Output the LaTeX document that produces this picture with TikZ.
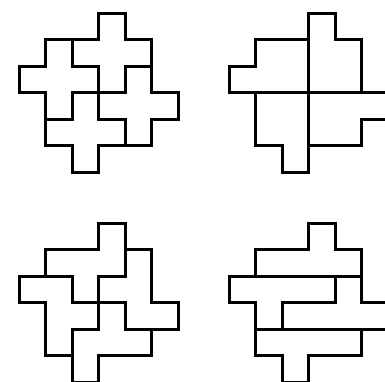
\documentclass[tikz,border=0pt]{standalone}
\begin{document}
\begin{tikzpicture}[x=1pt,y=-1pt,
  piece/.style={draw=black,line width=3.3pt,line join=miter},
  grid/.style={x=26.5pt,y=-26.5pt}]
\useasboundingbox (0,0) rectangle (385,381);
\clip (0,0) rectangle (385,381);
% top-left: four X pentominoes
\begin{scope}[shift={(19.3,13.3)},grid]
\draw[piece] (3,0)--(4,0)--(4,1)--(5,1)--(5,2)--(4,2)--(4,3)--(3,3)--(3,2)--(2,2)--(2,1)--(3,1)--cycle;
\draw[piece] (1,1)--(2,1)--(2,2)--(3,2)--(3,3)--(2,3)--(2,4)--(1,4)--(1,3)--(0,3)--(0,2)--(1,2)--cycle;
\draw[piece] (4,2)--(5,2)--(5,3)--(6,3)--(6,4)--(5,4)--(5,5)--(4,5)--(4,4)--(3,4)--(3,3)--(4,3)--cycle;
\draw[piece] (2,3)--(3,3)--(3,4)--(4,4)--(4,5)--(3,5)--(3,6)--(2,6)--(2,5)--(1,5)--(1,4)--(2,4)--cycle;
\end{scope}
% top-right: outline cut by a cross
\begin{scope}[shift={(229.3,13.3)},grid]
\draw[piece] (3,0)--(4,0)--(4,1)--(5,1)--(5,3)--(6,3)--(6,4)--(5,4)--(5,5)--(3,5)--(3,6)--(2,6)--(2,5)--(1,5)--(1,3)--(0,3)--(0,2)--(1,2)--(1,1)--(3,1)--cycle;
\draw[piece] (3,0)--(3,6);
\draw[piece] (0,3)--(6,3);
\end{scope}
% bottom-left
\begin{scope}[shift={(19.3,223.3)},grid]
\draw[piece] (3,0)--(4,0)--(4,2)--(3,2)--(3,3)--(2,3)--(2,2)--(1,2)--(1,1)--(3,1)--cycle;
\draw[piece] (4,1)--(5,1)--(5,3)--(6,3)--(6,4)--(4,4)--(4,3)--(3,3)--(3,2)--(4,2)--cycle;
\draw[piece] (0,2)--(2,2)--(2,3)--(3,3)--(3,4)--(2,4)--(2,5)--(1,5)--(1,3)--(0,3)--cycle;
\draw[piece] (3,3)--(4,3)--(4,4)--(5,4)--(5,5)--(3,5)--(3,6)--(2,6)--(2,4)--(3,4)--cycle;
\end{scope}
% bottom-right
\begin{scope}[shift={(229.3,223.3)},grid]
\draw[piece] (3,0)--(4,0)--(4,1)--(5,1)--(5,2)--(1,2)--(1,1)--(3,1)--cycle;
\draw[piece] (0,2)--(4,2)--(4,3)--(2,3)--(2,4)--(1,4)--(1,3)--(0,3)--cycle;
\draw[piece] (4,2)--(5,2)--(5,3)--(6,3)--(6,4)--(2,4)--(2,3)--(4,3)--cycle;
\draw[piece] (1,4)--(5,4)--(5,5)--(3,5)--(3,6)--(2,6)--(2,5)--(1,5)--cycle;
\end{scope}
\end{tikzpicture}
\end{document}
